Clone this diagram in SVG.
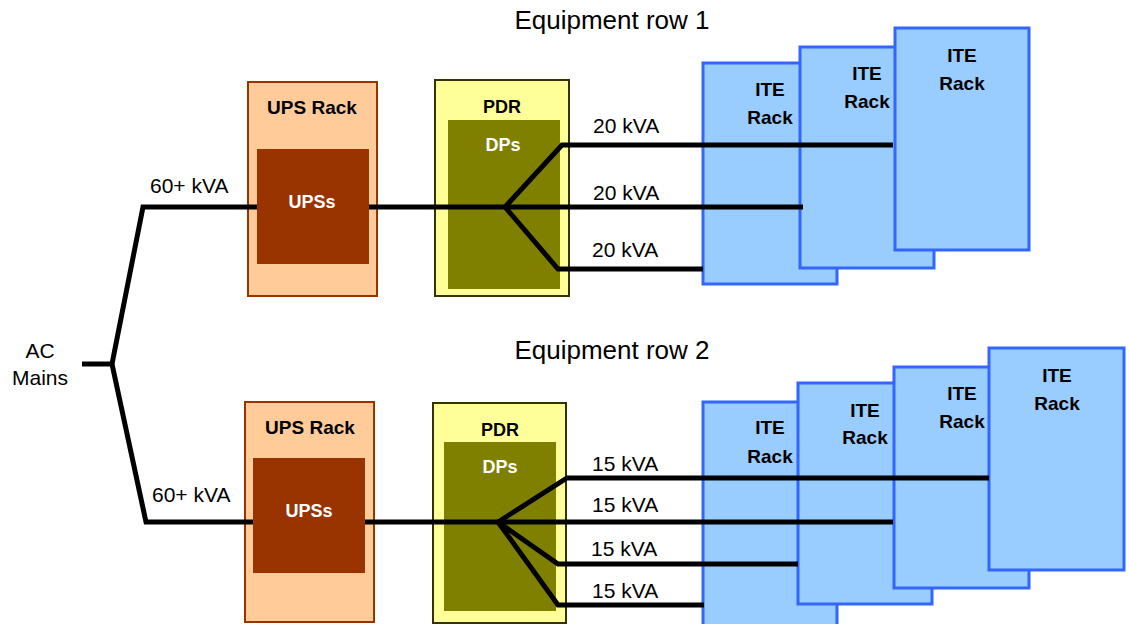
<svg xmlns="http://www.w3.org/2000/svg" width="1129" height="624" viewBox="0 0 1129 624">
<style>
  .t { font-family: "Liberation Sans", Arial, sans-serif; fill: #000; }
  .lbl { font-size: 21px; }
  .title { font-size: 26px; text-anchor: middle; }
  .b { font-weight: bold; font-size: 19px; text-anchor: middle; }
  .s { font-size: 18px; }
  .w { fill: #fff; }
  .upsOuter { fill: #FFCC99; stroke: #993300; stroke-width: 2; }
  .upsInner { fill: #993300; }
  .pdrOuter { fill: #FFFF99; stroke: #333300; stroke-width: 2; }
  .pdrInner { fill: #808000; }
  .rack { fill: #99CCFF; stroke: #3366FF; stroke-width: 3; }
  .wire { fill: none; stroke: #000; stroke-width: 5; stroke-linejoin: miter; }
</style>
<rect width="1129" height="624" fill="#fff"/>

<text class="t title" x="612" y="29">Equipment row 1</text>
<text class="t title" x="612" y="359">Equipment row 2</text>

<g id="ac-mains">
  <text class="t lbl" x="40" y="358" text-anchor="middle">AC</text>
  <text class="t lbl" x="40" y="385" text-anchor="middle">Mains</text>
</g>

<!-- Row 1 -->
<g id="ups-rack-1">
  <rect class="upsOuter" x="248" y="82" width="129" height="214"/>
  <text class="t b" x="312" y="114">UPS Rack</text>
  <rect class="upsInner" x="257" y="149" width="112" height="115"/>
  <text class="t b s w" x="312" y="208">UPSs</text>
</g>
<g id="pdr-1">
  <rect class="pdrOuter" x="435" y="80" width="134" height="216"/>
  <text class="t b s" x="502" y="113">PDR</text>
  <rect class="pdrInner" x="448" y="120" width="112" height="169"/>
  <text class="t b s w" x="503" y="151">DPs</text>
</g>
<g id="ite-rack-1-1">
  <rect class="rack" x="703" y="63" width="134" height="221"/>
  <text class="t b" x="770" y="96">ITE</text>
  <text class="t b" x="770" y="124">Rack</text>
</g>
<g id="ite-rack-1-2">
  <rect class="rack" x="800" y="47" width="134" height="221"/>
  <text class="t b" x="867" y="80">ITE</text>
  <text class="t b" x="867" y="108">Rack</text>
</g>
<g id="ite-rack-1-3">
  <rect class="rack" x="895" y="28" width="134" height="222"/>
  <text class="t b" x="962" y="62">ITE</text>
  <text class="t b" x="962" y="90">Rack</text>
</g>

<!-- Row 2 -->
<g id="ups-rack-2">
  <rect class="upsOuter" x="245" y="402" width="129" height="220"/>
  <text class="t b" x="310" y="434">UPS Rack</text>
  <rect class="upsInner" x="253" y="458" width="112" height="115"/>
  <text class="t b s w" x="309" y="517">UPSs</text>
</g>
<g id="pdr-2">
  <rect class="pdrOuter" x="433" y="403" width="133" height="220"/>
  <text class="t b s" x="500" y="436">PDR</text>
  <rect class="pdrInner" x="444" y="442" width="112" height="169"/>
  <text class="t b s w" x="500" y="473">DPs</text>
</g>
<g id="ite-rack-2-1">
  <rect class="rack" x="703" y="402" width="134" height="230"/>
  <text class="t b" x="770" y="434">ITE</text>
  <text class="t b" x="770" y="463">Rack</text>
</g>
<g id="ite-rack-2-2">
  <rect class="rack" x="798" y="383" width="134" height="221"/>
  <text class="t b" x="865" y="417">ITE</text>
  <text class="t b" x="865" y="444">Rack</text>
</g>
<g id="ite-rack-2-3">
  <rect class="rack" x="894" y="367" width="135" height="221"/>
  <text class="t b" x="962" y="400">ITE</text>
  <text class="t b" x="962" y="428">Rack</text>
</g>
<g id="ite-rack-2-4">
  <rect class="rack" x="989" y="348" width="135" height="222"/>
  <text class="t b" x="1057" y="382">ITE</text>
  <text class="t b" x="1057" y="410">Rack</text>
</g>

<g id="connectors">
  <path class="wire" d="M82 364 H112"/>
  <path class="wire" d="M112 364 L143 207 H257"/>
  <path class="wire" d="M112 364 L146 522 H253"/>
  <!-- row 1 -->
  <path class="wire" d="M369 207 H803"/>
  <path class="wire" d="M505 207 L562 145 H893"/>
  <path class="wire" d="M505 207 L558 269 H703"/>
  <!-- row 2 -->
  <path class="wire" d="M365 522 H893"/>
  <path class="wire" d="M498 522 L567 478 H989"/>
  <path class="wire" d="M498 522 L558 564 H798"/>
  <path class="wire" d="M498 522 L558 605 H704"/>
</g>

<g id="labels">
  <text class="t lbl" x="150" y="193">60+ kVA</text>
  <text class="t lbl" x="152" y="502">60+ kVA</text>
  <text class="t lbl" x="593" y="133">20 kVA</text>
  <text class="t lbl" x="593" y="200">20 kVA</text>
  <text class="t lbl" x="592" y="257">20 kVA</text>
  <text class="t lbl" x="592" y="471">15 kVA</text>
  <text class="t lbl" x="592" y="512">15 kVA</text>
  <text class="t lbl" x="591" y="556">15 kVA</text>
  <text class="t lbl" x="592" y="598">15 kVA</text>
</g>
</svg>
